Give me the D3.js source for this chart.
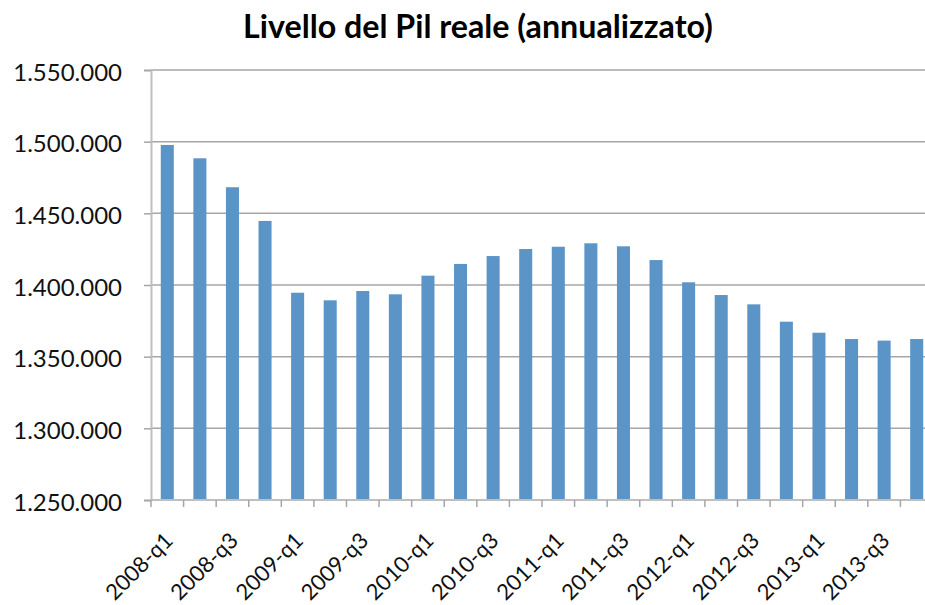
<!DOCTYPE html>
<html>
<head>
<meta charset="utf-8">
<script src="https://cdn.jsdelivr.net/npm/d3@7"></script>
<style>
  body { margin: 0; background: #fff; }
  svg { display: block; }
</style>
</head>
<body>
<svg id="chart" width="925" height="605"></svg>
<script>
const title = "Livello del Pil reale (annualizzato)";
const categories = [
  "2008-q1","2008-q2","2008-q3","2008-q4",
  "2009-q1","2009-q2","2009-q3","2009-q4",
  "2010-q1","2010-q2","2010-q3","2010-q4",
  "2011-q1","2011-q2","2011-q3","2011-q4",
  "2012-q1","2012-q2","2012-q3","2012-q4",
  "2013-q1","2013-q2","2013-q3","2013-q4"
];
const pilValues = [
  1497700, 1488400, 1468200, 1444700,
  1394600, 1389300, 1395800, 1393500,
  1406500, 1414700, 1420200, 1425100,
  1426700, 1429100, 1427000, 1417400,
  1401900, 1393000, 1386500, 1374400,
  1366700, 1362300, 1361200, 1362300
];
const yTicks = [1250000, 1300000, 1350000, 1400000, 1450000, 1500000, 1550000];
const xLabels = ["2008-q1","2008-q3","2009-q1","2009-q3","2010-q1","2010-q3",
  "2011-q1","2011-q3","2012-q1","2012-q3","2013-q1","2013-q3"];

(function () {
const svg = d3.select("#chart");
const mLeft = 151, mRight = 933, mTop = 70, mBottom = 500;
const FONT = "Lato, 'Open Sans', sans-serif";

const x = d3.scaleBand().domain(categories).range([mLeft, mRight]).paddingInner(0.6).paddingOuter(0.3);
const y = d3.scaleLinear().domain([1250000, 1550000]).range([mBottom, mTop]);

const fmt = d3.formatLocale({decimal: ",", thousands: ".", grouping: [3], currency: ["€",""]}).format(",d");

// gridlines
svg.append("g").selectAll("line").data(yTicks.slice(1)).join("line")
  .attr("x1", mLeft).attr("x2", mRight)
  .attr("y1", d => y(d)).attr("y2", d => y(d))
  .attr("stroke", "#a6a6a6").attr("stroke-width", 1.5);

// bars
svg.append("g").selectAll("rect").data(categories).join("rect")
  .attr("x", d => x(d))
  .attr("width", x.bandwidth())
  .attr("y", (d, i) => y(pilValues[i]))
  .attr("height", (d, i) => y(1250000) - y(pilValues[i]))
  .attr("fill", "#5b95c7");

// y axis
const yAxis = d3.axisLeft(y).tickValues(yTicks).tickFormat(fmt).tickSize(7).tickPadding(22);
const gy = svg.append("g").attr("transform", `translate(${mLeft},0)`).call(yAxis);
gy.select(".domain").attr("stroke", "#bfbfbf").attr("stroke-width", 2);
gy.selectAll(".tick line").attr("stroke", "#a6a6a6").attr("stroke-width", 1.5);
gy.selectAll(".tick text").attr("font-family", FONT).attr("font-size", 24).attr("fill", "#111")
  .attr("dy", "0.42em");

// x axis baseline and ticks at band boundaries
const boundaries = d3.range(categories.length + 1).map(i => mLeft + i * (mRight - mLeft) / categories.length);
svg.append("line").attr("x1", mLeft).attr("x2", mRight).attr("y1", mBottom).attr("y2", mBottom)
  .attr("stroke", "#bfbfbf").attr("stroke-width", 2);
svg.append("g").selectAll("line").data(boundaries).join("line")
  .attr("x1", d => d).attr("x2", d => d).attr("y1", mBottom).attr("y2", mBottom + 7)
  .attr("stroke", "#a6a6a6").attr("stroke-width", 1.5);

// x labels
svg.append("g").selectAll("text").data(xLabels).join("text")
  .attr("transform", d => `translate(${x(d) + x.bandwidth() / 2 + 7},${mBottom + 42}) rotate(-45)`)
  .attr("text-anchor", "end")
  .attr("font-family", FONT).attr("font-size", 22).attr("fill", "#111")
  .text(d => d);

// title
const t = svg.append("text").attr("x", 478).attr("y", 38).attr("text-anchor", "middle")
  .attr("font-family", FONT).attr("font-weight", "bold").attr("font-size", 30).attr("fill", "#000")
  .text(title);
const w = t.node().getComputedTextLength();
t.attr("font-size", 30 * 470 / w);
})();
</script>
</body>
</html>
